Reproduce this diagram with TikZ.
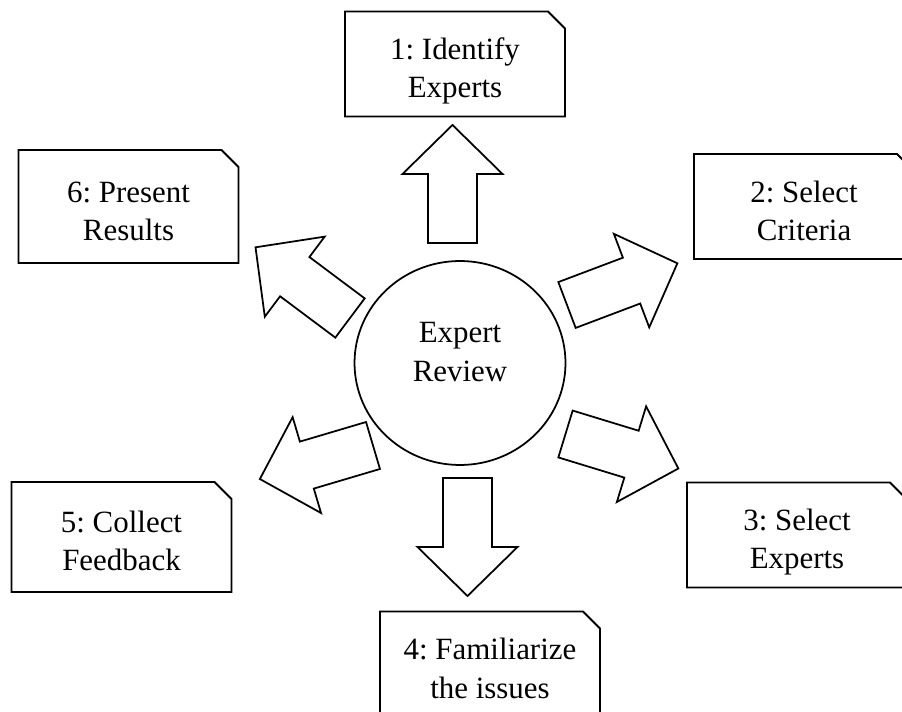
\documentclass[tikz,border=0pt]{standalone}
\usepackage{fontspec}
\setmainfont{Liberation Serif}
\usetikzlibrary{shapes.misc,shapes.geometric}
\newcommand\tallstrut{\rule{0pt}{21pt}}

\begin{document}
\begin{tikzpicture}[x=0.02cm,y=-0.02cm,
  stepbox/.style={draw,line width=1.1pt,chamfered rectangle,
    chamfered rectangle corners=north east,
    chamfered rectangle xsep=0.17cm,chamfered rectangle ysep=0.17cm,
    minimum width=4.4cm,minimum height=2.1cm,inner xsep=0pt,inner ysep=-8pt,
    align=center,font=\fontsize{17.6}{20.5}\selectfont\frenchspacing,
    execute at end node=\rule[-4pt]{0pt}{4pt}},
  hub/.style={draw,line width=1pt,ellipse,minimum width=4.22cm,
    minimum height=4.08cm,inner sep=0pt,align=center,
    font=\fontsize{17.6}{22}\selectfont,
    execute at end node=\rule[-12.4pt]{0pt}{12.4pt}},
  blockarrow/.style={draw,line width=1pt,line join=miter}]
\useasboundingbox (0,0) rectangle (902,712);
\clip (0,0) rectangle (902,712);

% hub and the six steps
\node[hub] (review) at (460,363) {Expert\\Review};
\node[stepbox] (identify) at (455,64) {\tallstrut 1: Identify\\[1.2pt]Experts};
\node[stepbox] (criteria) at (804,206.5) {\tallstrut 2: Select\\[1.2pt]Criteria};
\node[stepbox] (select) at (797,535) {\tallstrut 3: Select\\[1.2pt]Experts};
\node[stepbox] (familiar) at (490,664) {\tallstrut 4: Familiarize\\[1.2pt]the issues};
\node[stepbox,minimum height=2.2cm] (collect) at (121.5,537) {\tallstrut 5: Collect\\[1.2pt]Feedback};
\node[stepbox,minimum height=2.26cm] (present) at (128.5,206.5) {\tallstrut 6: Present\\[1.2pt]Results};

% block arrows out of the hub
\foreach \x/\y/\a in {452.5/243/90, 567/305/20.7, 565.5/434/-17,
    467.5/478/-90, 373/445.5/196.5, 350/318/143.2}
  \draw[blockarrow,shift={(\x,\y)},rotate=\a] (0,-24.5) -- (69,-24.5) -- (69,-50)
    -- (118,0) -- (69,50) -- (69,24.5) -- (0,24.5) -- cycle;

\end{tikzpicture}
\end{document}
